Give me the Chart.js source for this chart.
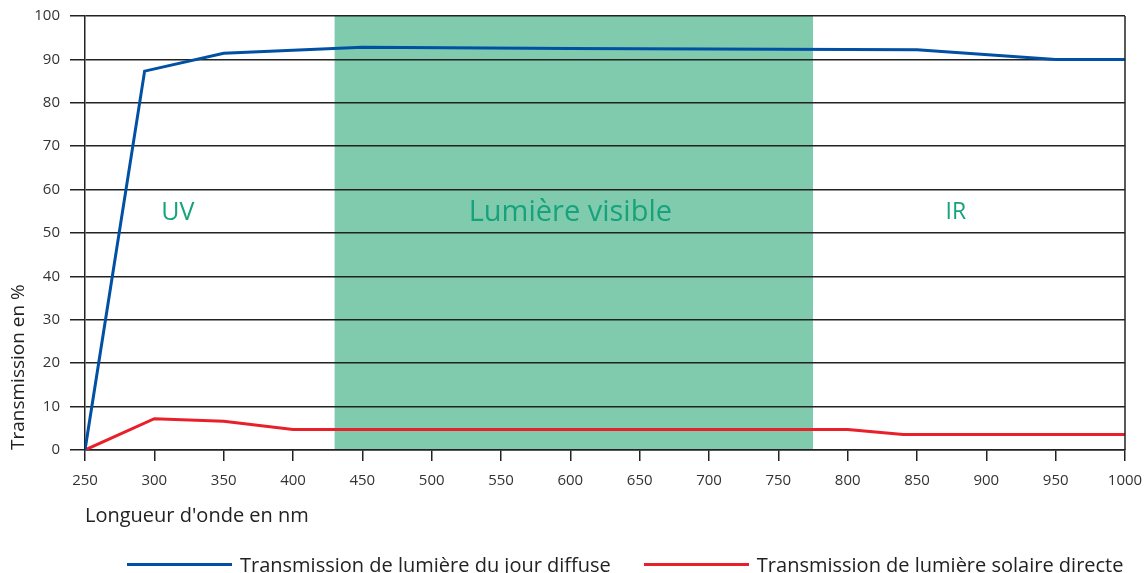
<!DOCTYPE html>
<html>
<head>
<meta charset="utf-8">
<script src="https://cdn.jsdelivr.net/npm/chart.js@4"></script>
<style>
  html, body { margin: 0; padding: 0; background: #fff; }
  #wrap { position: relative; width: 1144px; height: 573px; }
  #legend { position: absolute; left: 127px; top: 552px; height: 24px; display: flex; align-items: center;
            font-family: "Open Sans"; font-size: 20px; color: #222; white-space: nowrap; }
  .item { display: flex; align-items: center; margin-right: 33px; }
  .swatch { width: 105px; height: 3px; margin-right: 8px; }
</style>
</head>
<body>
<div id="wrap">
  <canvas id="chart"></canvas>
  <div id="legend"></div>
</div>
<script>
// wavelength (nm) / transmission (%)
const diffuseNm = [250, 293, 350, 450, 600, 800, 850, 950, 1000];
const diffuseVal = [0, 87.3, 91.4, 92.8, 92.5, 92.3, 92.2, 90, 90];
const directNm = [250, 300, 350, 400, 800, 840, 1000];
const directVal = [0, 7.2, 6.6, 4.7, 4.7, 3.6, 3.6];

const seriesNames = ['Transmission de lumière du jour diffuse', 'Transmission de lumière solaire directe'];
const seriesColors = ['#0050a4', '#e8202a'];

const visibleBand = [430, 775];
const regionLabels = [
  { text: 'UV', x: 317, y: 54.7, size: 25 },
  { text: 'Lumière visible', x: 600, y: 54.7, size: 29 },
  { text: 'IR', x: 878, y: 54.7, size: 23 }
];

const toPoints = (xs, ys) => xs.map((x, i) => ({ x: x, y: ys[i] }));

const bandPlugin = {
  id: 'band',
  beforeDraw(chart) {
    const { ctx, chartArea, scales } = chart;
    const x1 = scales.x.getPixelForValue(visibleBand[0]);
    const x2 = scales.x.getPixelForValue(visibleBand[1]);
    ctx.save();
    ctx.fillStyle = '#80cbad';
    ctx.fillRect(x1, chartArea.top, x2 - x1, chartArea.bottom - chartArea.top);
    ctx.restore();
  },
  afterDraw(chart) {
    const { ctx, chartArea, scales } = chart;
    ctx.save();
    // right border
    ctx.strokeStyle = '#222';
    ctx.lineWidth = 1.5;
    ctx.beginPath();
    ctx.moveTo(chartArea.right, chartArea.top);
    ctx.lineTo(chartArea.right, chartArea.bottom);
    ctx.stroke();
    ctx.fillStyle = '#16a37c';
    ctx.textAlign = 'center';
    ctx.textBaseline = 'middle';
    regionLabels.forEach(l => {
      ctx.font = l.size + 'px "Open Sans"';
      ctx.fillText(l.text, scales.x.getPixelForValue(l.x), scales.y.getPixelForValue(l.y));
    });
    ctx.restore();
  }
};

const chart = new Chart(document.getElementById('chart').getContext('2d'), {
  type: 'line',
  data: {
    datasets: [{
      label: seriesNames[0],
      data: toPoints(diffuseNm, diffuseVal),
      borderColor: seriesColors[0],
      borderWidth: 3,
      pointRadius: 0,
      tension: 0
    }, {
      label: seriesNames[1],
      data: toPoints(directNm, directVal),
      borderColor: seriesColors[1],
      borderWidth: 3,
      pointRadius: 0,
      tension: 0
    }]
  },
  options: {
    responsive: true,
    maintainAspectRatio: false,
    animation: false,
    layout: { padding: 0 },
    plugins: {
      tooltip: { enabled: false },
      legend: { display: false }
    },
    scales: {
      x: {
        type: 'linear',
        min: 250,
        max: 1000,
        ticks: { stepSize: 50, padding: 11, color: '#333', font: { family: 'Open Sans', size: 15 },
                 callback: v => String(v) },
        grid: { drawOnChartArea: false, tickLength: 11, color: '#222', lineWidth: 1.5 },
        border: { display: true, color: '#222', width: 1.5 },
        title: {
          display: true,
          align: 'start',
          text: "Longueur d'onde en nm",
          color: '#222',
          font: { family: 'Open Sans', size: 20 },
          padding: { top: 0, bottom: 45 }
        },
        afterFit: s => { s.height = 123; s.paddingRight = 19; s.paddingLeft = 0; }
      },
      y: {
        min: 0,
        max: 100,
        ticks: { stepSize: 10, padding: 10, color: '#333', font: { family: 'Open Sans', size: 15, lineHeight: 1 } },
        grid: { tickLength: 15, color: '#222', lineWidth: 1.5 },
        border: { display: true, color: '#222', width: 1.5 },
        title: {
          display: true,
          align: 'start',
          text: 'Transmission en %',
          color: '#222',
          font: { family: 'Open Sans', size: 19 },
          padding: { top: 7, bottom: 0 }
        },
        afterFit: s => { s.width = 85; s.paddingTop = 16; s.paddingBottom = 0; }
      }
    }
  },
  plugins: [bandPlugin]
});

// legend as html below the plot
const legendEl = document.getElementById('legend');
chart.data.datasets.forEach(ds => {
  const item = document.createElement('div');
  item.className = 'item';
  const sw = document.createElement('span');
  sw.className = 'swatch';
  sw.style.background = ds.borderColor;
  item.appendChild(sw);
  item.appendChild(document.createTextNode(ds.label));
  legendEl.appendChild(item);
});
</script>
</body>
</html>
